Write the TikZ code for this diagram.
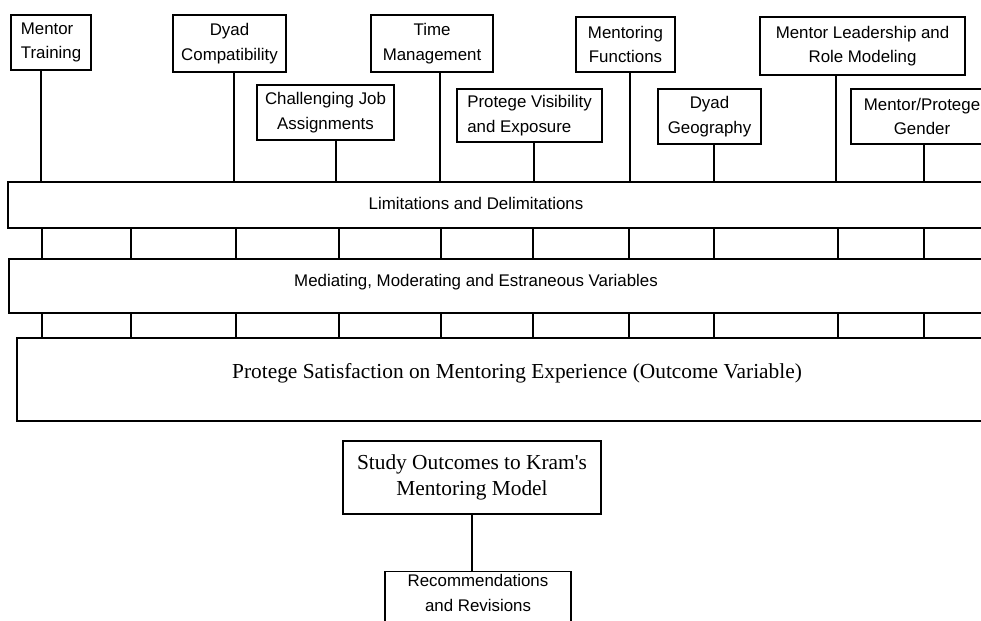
\documentclass[tikz,border=0pt]{standalone}
\usepackage{fontspec}
\setmainfont{Liberation Sans}
\newfontfamily\serifface{Liberation Serif}
\usepackage{tikz}
\usetikzlibrary{positioning,calc}

\begin{document}
\begin{tikzpicture}[
    line width=1pt,
    factor/.style={draw, font=\fontsize{12}{17.5}\selectfont, align=center,
                   inner sep=1pt},
    band/.style={draw, inner sep=0pt},
    bandlabel/.style={font=\fontsize{12}{15}\selectfont},
    outcome/.style={draw, font=\serifface\fontsize{15.2}{19}\selectfont,
                    align=center},
  ]
  \useasboundingbox (0,0) rectangle (24.525,-15.525);

  % Factors
  \node[factor, minimum width=2.0cm, minimum height=1.375cm, align=left]
    (training) at (1.275,-1.0625) {Mentor\\Training};
  \node[factor, minimum width=2.825cm, minimum height=1.425cm]
    (compat) at (5.7375,-1.0875) {Dyad\\Compatibility};
  \node[factor, minimum width=3.425cm, minimum height=1.375cm]
    (jobs) at (8.1375,-2.8125) {Challenging Job\\Assignments};
  \node[factor, minimum width=3.05cm, minimum height=1.425cm]
    (time) at (10.8,-1.0875) {Time\\Management};
  \node[factor, minimum width=3.625cm, minimum height=1.325cm, align=left]
    (visib) at (13.2375,-2.8875) {Protege Visibility\\and Exposure};
  \node[factor, minimum width=2.475cm, minimum height=1.375cm]
    (functions) at (15.6375,-1.1125) {Mentoring\\Functions};
  \node[factor, minimum width=2.575cm, minimum height=1.375cm]
    (geog) at (17.7375,-2.9125) {Dyad\\Geography};
  \node[factor, minimum width=5.125cm, minimum height=1.45cm]
    (leader) at (21.5625,-1.15) {Mentor Leadership and\\Role Modeling};
  \node[factor, minimum width=3.55cm, minimum height=1.375cm]
    (gender) at (23.05,-2.9125) {Mentor/Protege\\Gender};

  % Bands
  \node[band, minimum width=25.05cm, minimum height=1.15cm]
    (limits) at (12.725,-5.125) {};
  \node[band, minimum width=25.025cm, minimum height=1.35cm]
    (mediating) at (12.7375,-7.15) {};
  \node[band, minimum width=24.925cm, minimum height=2.075cm]
    (satisf) at (12.8875,-9.4875) {};

  \node[bandlabel] (limtext) at (11.9,-5.075) {Limitations and Delimitations};
  \node[bandlabel] (medtext) at (11.9,-7.05)
    {Mediating, Moderating and Estraneous Variables};
  \node[font=\serifface\fontsize{15.2}{19}\selectfont] (sattext) at (12.925,-9.325)
    {Protege Satisfaction on Mentoring Experience (Outcome Variable)};

  % Factors down to the first band
  \foreach \f/\x in {training/1.025, compat/5.85, jobs/8.4, time/11.0,
                     visib/13.35, functions/15.75, geog/17.85,
                     leader/20.9, gender/23.1}
    \draw (\x,0 |- \f.south) -- (\x,0 |- limits.north);

  % Links between the bands
  \foreach \x in {1.05, 3.275, 5.9, 8.475, 11.025, 13.325, 15.725,
                  17.85, 20.95, 23.1} {
    \draw (\x,0 |- limits.south) -- (\x,0 |- mediating.north);
    \draw (\x,0 |- mediating.south) -- (\x,0 |- satisf.north);
  }

  % Study outcomes
  \node[outcome, minimum width=6.45cm, minimum height=1.825cm]
    (outcomes) at (11.8,-11.9375)
    {Study Outcomes to Kram\textquotesingle s\\Mentoring Model};
  \node[factor, minimum width=4.65cm, anchor=north, inner sep=2pt,
        text depth=1.2cm, font=\fontsize{12}{17.5}\selectfont]
    (recs) at (11.95,-14.275) {Recommendations\\and Revisions};
  \draw (outcomes.south) -- (outcomes.south |- recs.north);

\end{tikzpicture}
\end{document}
